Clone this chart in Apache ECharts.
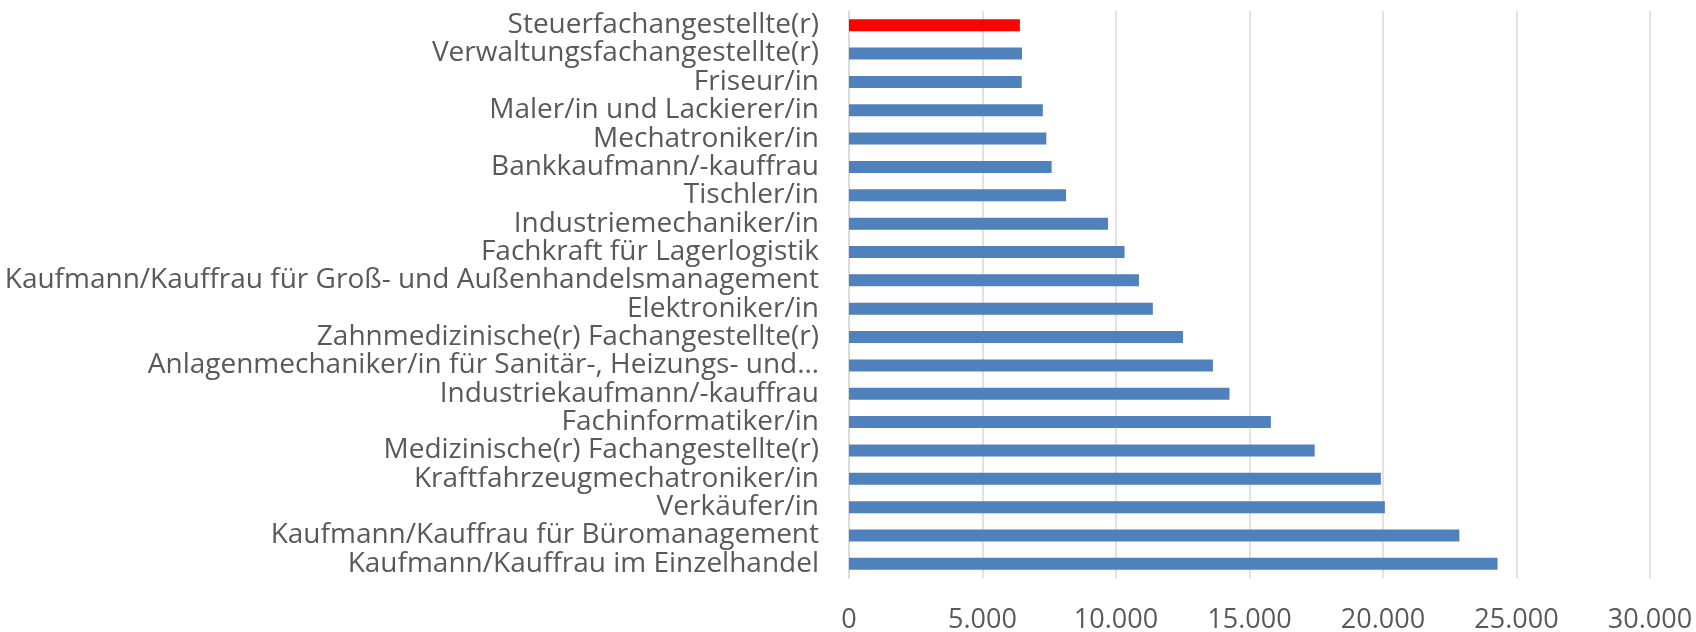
<!DOCTYPE html>
<html>
<head>
<meta charset="utf-8">
<script src="https://cdn.jsdelivr.net/npm/echarts@6/dist/echarts.min.js"></script>
<style>
	html, body { margin:0; padding:0; background:#fff; }
	#echarts { width:1696px; height:632px; }
</style>
</head>
<body>
<div id="echarts"></div>
<script type="text/javascript">
	// Ausbildungsberufe, von oben nach unten
	var berufe = [
		'Steuerfachangestellte(r)',
		'Verwaltungsfachangestellte(r)',
		'Friseur/in',
		'Maler/in und Lackierer/in',
		'Mechatroniker/in',
		'Bankkaufmann/-kauffrau',
		'Tischler/in',
		'Industriemechaniker/in',
		'Fachkraft für Lagerlogistik',
		'Kaufmann/Kauffrau für Groß- und Außenhandelsmanagement',
		'Elektroniker/in',
		'Zahnmedizinische(r) Fachangestellte(r)',
		'Anlagenmechaniker/in für Sanitär-, Heizungs- und…',
		'Industriekaufmann/-kauffrau',
		'Fachinformatiker/in',
		'Medizinische(r) Fachangestellte(r)',
		'Kraftfahrzeugmechatroniker/in',
		'Verkäufer/in',
		'Kaufmann/Kauffrau für Büromanagement',
		'Kaufmann/Kauffrau im Einzelhandel'
	];
	var werte = [6400, 6480, 6470, 7260, 7390, 7590, 8130, 9700, 10320, 10860,
		11380, 12510, 13630, 14250, 15800, 17440, 19920, 20070, 22860, 24290];
	var hervorgehoben = 'Steuerfachangestellte(r)';

	function tausender(v){
		return String(v).replace(/\B(?=(\d{3})+(?!\d))/g, '.');
	}

	var balken = [];
	for (var i=0;i<berufe.length;i++){
		balken.push({
			value: werte[i],
			itemStyle: {color: berufe[i]==hervorgehoben ? '#FF0000' : '#4F81BD'}
		});
	}

	var thechart = echarts.init(document.getElementById('echarts'));
	var theoption = {
		animation: false,
		grid: {left:849, right:46, top:11, bottom:54, containLabel:false, outerBoundsMode:'none'},
		xAxis: {
			type: 'value',
			min: 0,
			max: 30000,
			interval: 5000,
			axisLine: {show:false},
			axisTick: {show:false},
			splitLine: {lineStyle:{color:'#D9D9D9', width:1.5}},
			axisLabel: {
				margin: 29,
				color: '#595959',
				fontFamily: 'Open Sans',
				fontSize: 27,
				formatter: tausender
			}
		},
		yAxis: {
			type: 'category',
			inverse: true,
			data: berufe,
			axisLine: {lineStyle:{color:'#D9D9D9', width:1.5}},
			axisTick: {length:10, lineStyle:{color:'#D9D9D9', width:1.5}},
			axisLabel: {
				interval: 0,
				margin: 30,
				color: '#595959',
				fontFamily: 'Open Sans',
				fontSize: 28
			}
		},
		series: [{
			type: 'bar',
			barWidth: 12,
			data: balken
		}]
	};
	thechart.setOption(theoption);
</script>
</body>
</html>
